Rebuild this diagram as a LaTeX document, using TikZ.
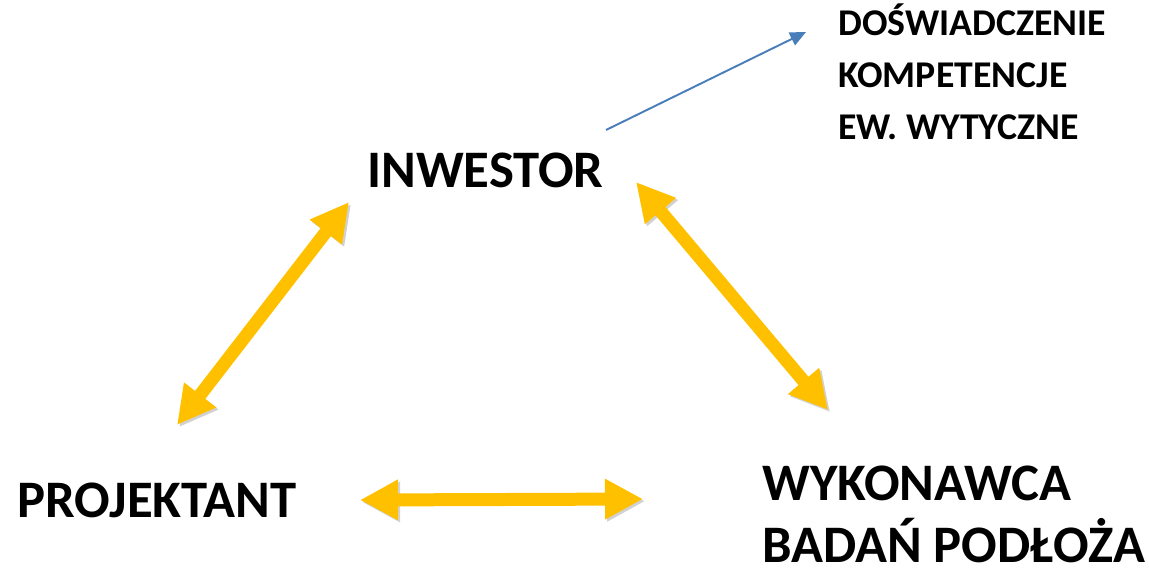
\documentclass[tikz,border=0pt]{standalone}
\usepackage{fontspec}
\setmainfont{Carlito}
\usepackage{xcolor}
\usetikzlibrary{arrows.meta,calc}
\definecolor{zolty}{HTML}{FFC000}
\definecolor{niebieski}{HTML}{4A7EBB}

\begin{document}
\begin{tikzpicture}[x=0.02cm,y=-0.02cm,
    duza/.style={font=\fontsize{30}{36}\selectfont\bfseries, inner sep=0pt, anchor=base west, align=left},
    mala/.style={font=\fontsize{21.5}{29.5}\selectfont\bfseries, inner sep=0pt, anchor=base west, align=left},
    dwustronna/.style={zolty, line width=0.26cm,
        {Triangle[length=0.76cm,width=0.76cm]}-{Triangle[length=0.76cm,width=0.76cm]},
        preaction={draw=black, opacity=0.18, transform canvas={shift={(1.2pt,-1.2pt)}}}}]
    \useasboundingbox (0,0) rectangle (1149,569);

    % Labels (multi-line nodes sit on their last baseline)
    \node[duza] (inwestor) at (367,187) {INWESTOR};
    \node[duza] (projektant) at (17,517) {PROJEKTANT};
    \node[duza] (wykonawca) at (762,562) {WYKONAWCA\\[-1pt]BADAŃ PODŁOŻA};
    \node[mala] (wymogi) at (838,139) {DOŚWIADCZENIE\\KOMPETENCJE\\EW. WYTYCZNE};

    % Arrow ends
    \coordinate (inw-l) at (349,202);
    \coordinate (proj-u) at (177,425);
    \coordinate (inw-r) at (636,182);
    \coordinate (wyk-u) at (828,410);
    \coordinate (proj-r) at (360,500);
    \coordinate (wyk-l) at (643,499);
    \coordinate (inw-o) at (606,130);
    \coordinate (wym-w) at (806,32);

    % Relations
    \draw[dwustronna] (proj-u) -- (inw-l);
    \draw[dwustronna] (inw-r) -- (wyk-u);
    \draw[dwustronna] (proj-r) -- (wyk-l);

    % Requirements
    \draw[niebieski, line width=1.1pt, -{Triangle[length=9pt,width=8pt]}] (inw-o) -- (wym-w);
\end{tikzpicture}
\end{document}
